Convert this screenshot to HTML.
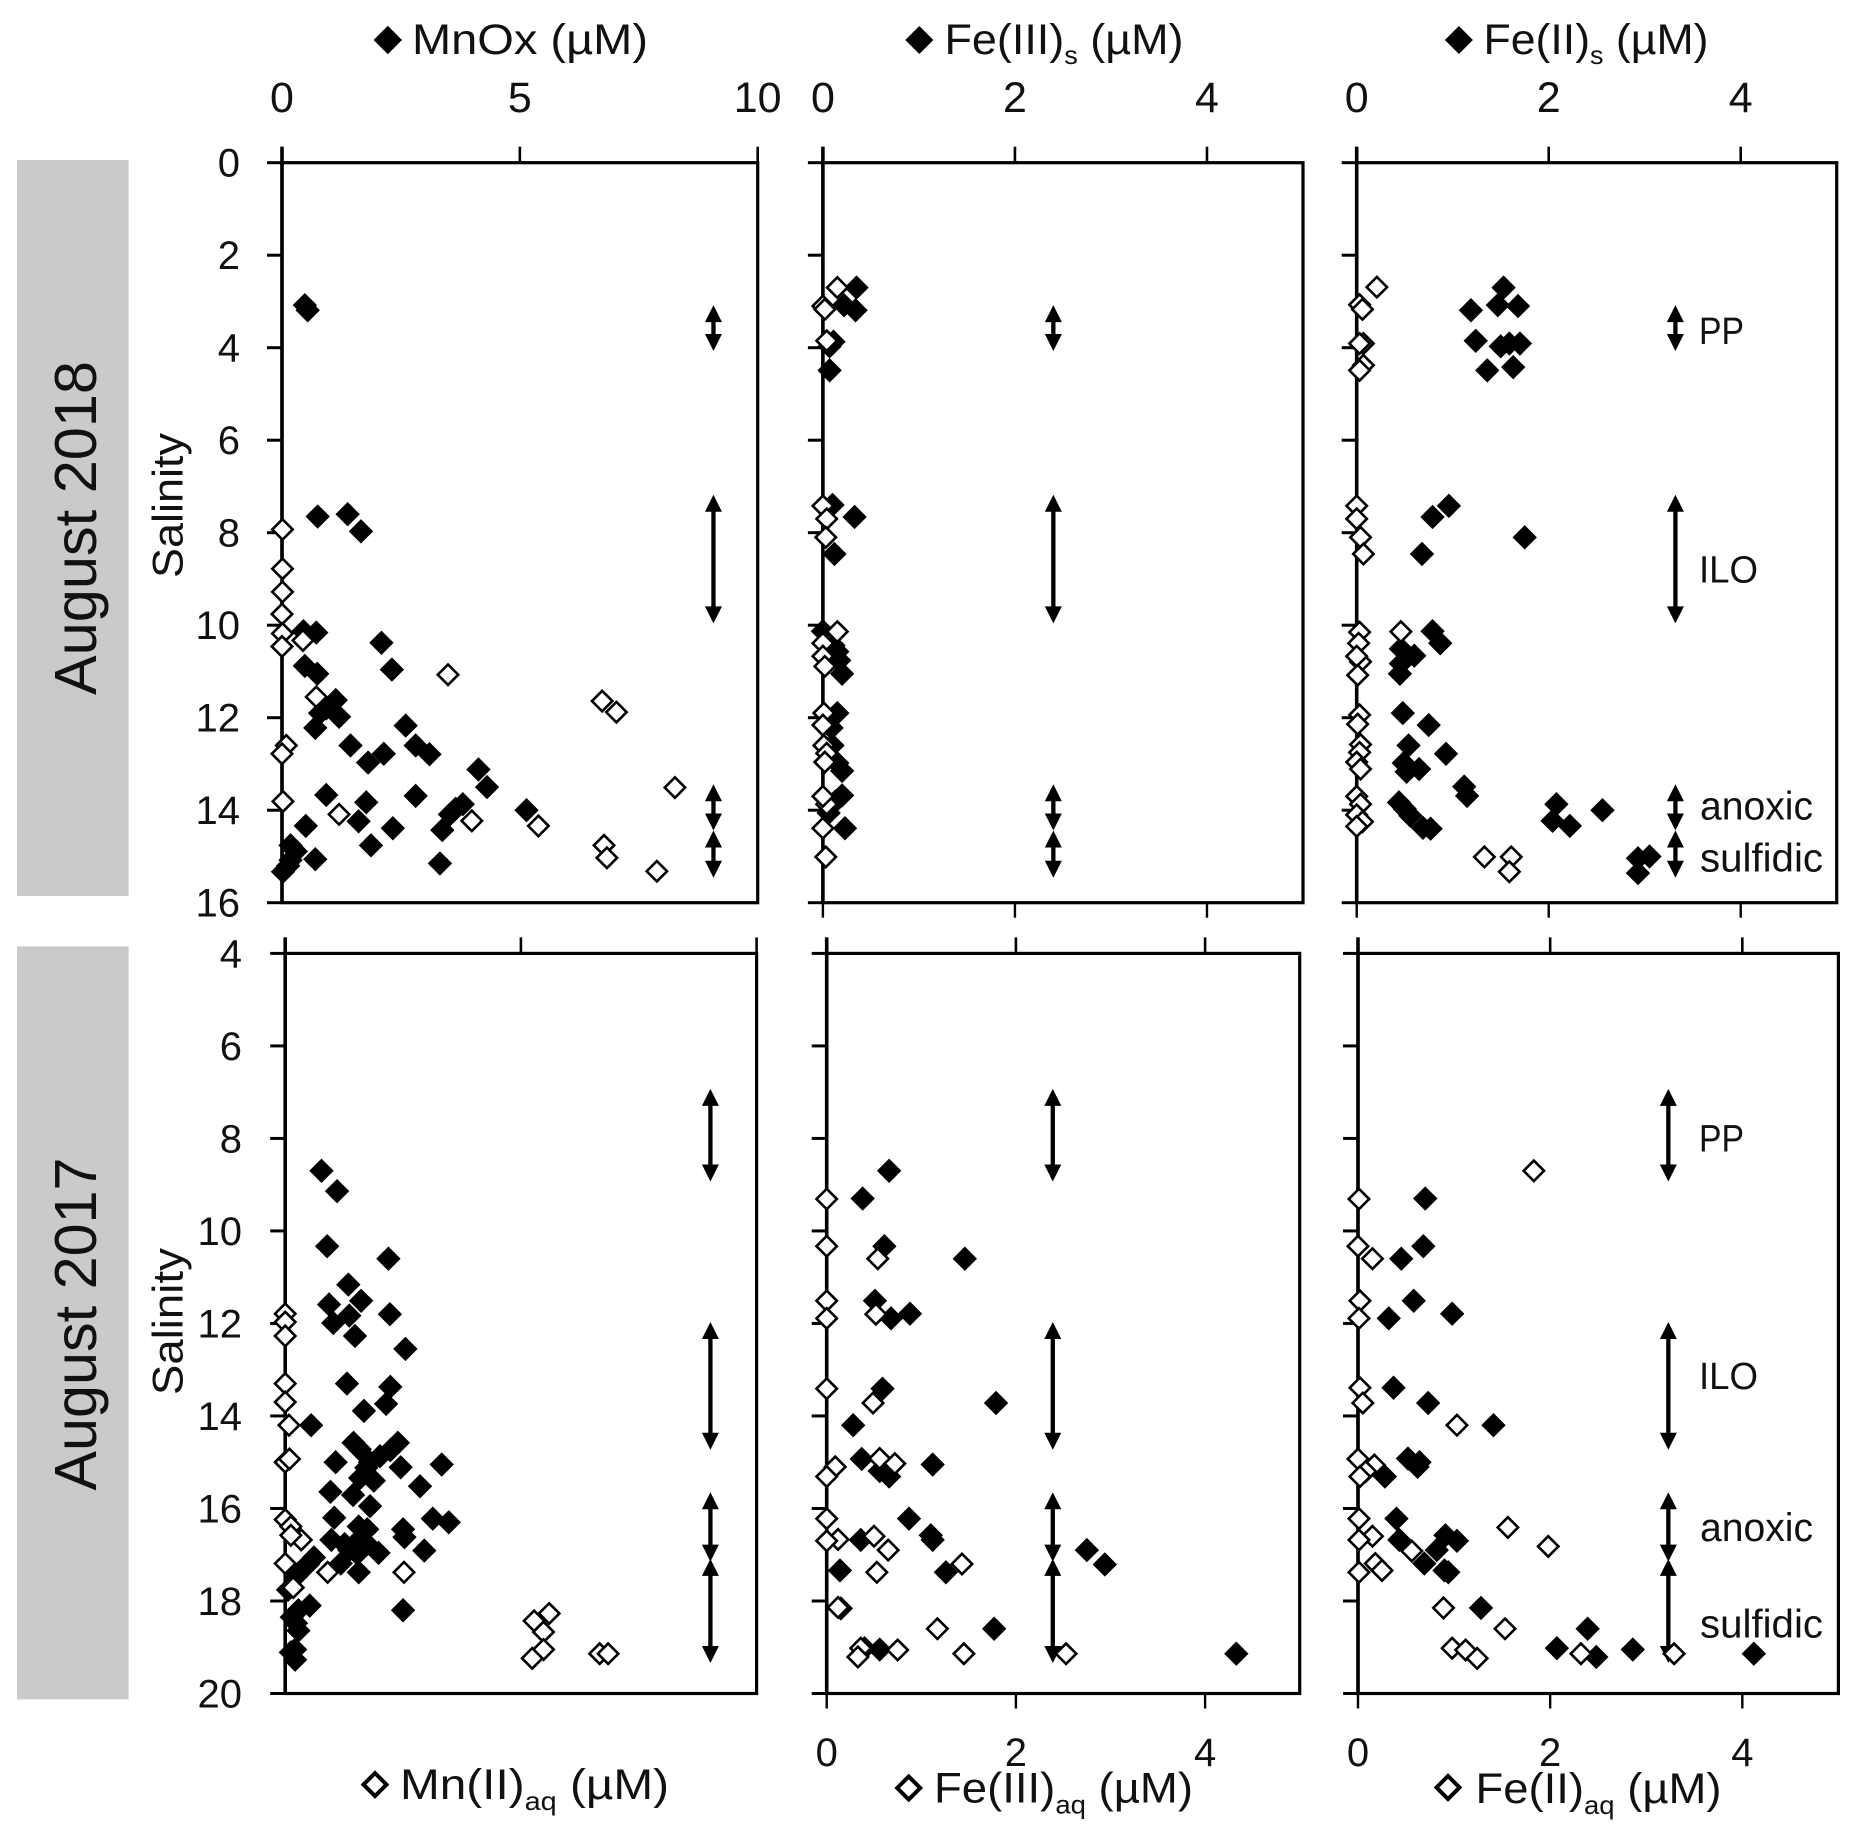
<!DOCTYPE html>
<html lang="en">
<head>
<meta charset="utf-8">
<title>Mn and Fe species versus salinity, August 2018 and August 2017</title>
<style>
html,body{margin:0;padding:0;background:#fff}
svg{display:block}
text{font-family:"Liberation Sans",sans-serif;fill:#111}
</style>
</head>
<body>
<svg id="chart" xmlns="http://www.w3.org/2000/svg" width="1859" height="1839" viewBox="0 0 1859 1839">
  <rect x="17" y="160" width="111.6" height="736" fill="#cacaca"/>
  <rect x="17" y="946.4" width="111.6" height="753" fill="#cacaca"/>
  <text transform="translate(96 528) rotate(-90)" text-anchor="middle" font-size="59" textLength="334" lengthAdjust="spacingAndGlyphs">August 2018</text>
  <text transform="translate(96 1324) rotate(-90)" text-anchor="middle" font-size="59" textLength="333" lengthAdjust="spacingAndGlyphs">August 2017</text>
  <text transform="translate(182.6 505.5) rotate(-90)" text-anchor="middle" font-size="43" textLength="145" lengthAdjust="spacingAndGlyphs">Salinity</text>
  <text transform="translate(182.6 1321.6) rotate(-90)" text-anchor="middle" font-size="43" textLength="147" lengthAdjust="spacingAndGlyphs">Salinity</text>

  <polygon points="373.6,40 387.8,25.8 402,40 387.8,54.2" fill="#000"/>
  <text x="412" y="54" font-size="43" textLength="236" lengthAdjust="spacingAndGlyphs">MnOx (µM)</text>
  <polygon points="905.3,40 919.3,26 933.3,40 919.3,54" fill="#000"/>
  <text x="944.5" y="54" font-size="43" textLength="239" lengthAdjust="spacingAndGlyphs">Fe(III)<tspan font-size="26" dy="10">s</tspan><tspan dy="-10"> (µM)</tspan></text>
  <polygon points="1444.9,40 1458.9,26 1472.9,40 1458.9,54" fill="#000"/>
  <text x="1483.5" y="54" font-size="43" textLength="225" lengthAdjust="spacingAndGlyphs">Fe(II)<tspan font-size="26" dy="10">s</tspan><tspan dy="-10"> (µM)</tspan></text>

  <polygon points="363.5,1784.6 375,1773.1 386.5,1784.6 375,1796.1" fill="#fff" stroke="#000" stroke-width="4"/>
  <text x="400" y="1799" font-size="43" textLength="269" lengthAdjust="spacingAndGlyphs">Mn(II)<tspan font-size="26" dy="11">aq</tspan><tspan dy="-11"> (µM)</tspan></text>
  <polygon points="897.2,1788 908.7,1776.5 920.2,1788 908.7,1799.5" fill="#fff" stroke="#000" stroke-width="4"/>
  <text x="934" y="1802.7" font-size="43" textLength="259" lengthAdjust="spacingAndGlyphs">Fe(III)<tspan font-size="26" dy="11">aq</tspan><tspan dy="-11"> (µM)</tspan></text>
  <polygon points="1436.5,1787.5 1448,1776 1459.5,1787.5 1448,1799" fill="#fff" stroke="#000" stroke-width="4"/>
  <text x="1475.5" y="1803" font-size="43" textLength="246" lengthAdjust="spacingAndGlyphs">Fe(II)<tspan font-size="26" dy="11">aq</tspan><tspan dy="-11"> (µM)</tspan></text>

  <g id="plots"></g>

  <text x="1699" y="344" font-size="38" textLength="45" lengthAdjust="spacingAndGlyphs">PP</text>
  <text x="1699" y="582.7" font-size="38" textLength="59" lengthAdjust="spacingAndGlyphs">ILO</text>
  <text x="1700" y="819.3" font-size="40" textLength="113" lengthAdjust="spacingAndGlyphs">anoxic</text>
  <text x="1700" y="871.7" font-size="40" textLength="123" lengthAdjust="spacingAndGlyphs">sulfidic</text>
  <text x="1699" y="1151.5" font-size="38" textLength="45" lengthAdjust="spacingAndGlyphs">PP</text>
  <text x="1699" y="1389" font-size="38" textLength="59" lengthAdjust="spacingAndGlyphs">ILO</text>
  <text x="1700" y="1541" font-size="40" textLength="113" lengthAdjust="spacingAndGlyphs">anoxic</text>
  <text x="1700" y="1637.5" font-size="40" textLength="123" lengthAdjust="spacingAndGlyphs">sulfidic</text>
</svg>
<script>
// Each point is [concentration in µM, salinity].
const mnox2018 = [[.48,3.08],[.54,3.19],[.75,7.65],[1.38,7.6],[1.66,7.97],[.45,10.13],[.72,10.16],[2.09,10.38],[2.31,10.96],[.48,10.88],[.74,11.05],[1.13,11.62],[.93,11.8],[.8,11.9],[1.2,11.98],[.7,12.22],[2.6,12.17],[2.81,12.6],[1.44,12.6],[2.14,12.78],[3.1,12.79],[1.81,12.97],[4.13,13.12],[4.31,13.5],[.93,13.67],[1.77,13.83],[2.81,13.69],[3.8,13.87],[3.65,13.97],[3.53,14.09],[5.14,14],[1.61,14.24],[.5,14.34],[3.37,14.43],[2.33,14.39],[1.87,14.76],[.18,14.76],[.29,14.89],[.7,15.06],[.18,15.08],[.02,15.33],[.13,15.2],[3.32,15.15]];
const mn2aq2018 = [[.01,7.93],[.01,8.78],[.01,9.28],[0,9.76],[.01,10.18],[0,10.46],[.44,10.33],[3.49,11.07],[.72,11.55],[6.73,11.64],[7.03,11.88],[.09,12.6],[0,12.78],[.02,13.81],[8.26,13.51],[1.2,14.09],[3.99,14.23],[5.39,14.34],[6.77,14.76],[6.83,15.03],[7.88,15.32]];
const fe3s2018 = [[.35,2.7],[.34,3.19],[.22,3.08],[.11,3.87],[.07,3.97],[.07,4.49],[.1,7.4],[.33,7.66],[.12,8.46],[0,10.13],[.11,10.44],[.15,10.57],[.17,10.76],[.2,11.05],[.15,11.9],[.09,12.22],[.1,12.6],[.15,12.98],[.2,13.15],[.2,13.68],[.13,13.81],[.06,14.06],[.23,14.39]];
const fe3aq2018 = [[.15,2.7],[0,3.1],[.02,3.17],[.04,3.85],[0,7.42],[.04,7.7],[.03,8.1],[.15,10.14],[0,10.39],[0,10.67],[.02,10.89],[.01,11.9],[0,12.16],[.01,12.6],[.04,12.77],[.02,12.96],[.04,13.87],[0,13.7],[0,14.39],[.03,15.01]];
const fe2s2018 = [[1.53,2.7],[1.19,3.19],[1.47,3.08],[1.68,3.1],[1.24,3.85],[1.5,3.97],[1.59,3.91],[1.7,3.91],[1.36,4.49],[1.63,4.42],[.96,7.42],[.79,7.66],[1.75,8.1],[.68,8.46],[.79,10.13],[.87,10.39],[.46,10.51],[.6,10.66],[.46,10.83],[.45,11.05],[.48,11.9],[.75,12.16],[.54,12.6],[.93,12.78],[.49,12.98],[.65,13.11],[.52,13.17],[1.12,13.49],[1.15,13.69],[.44,13.83],[.5,13.97],[.56,14.12],[.69,14.38],[.77,14.4],[2.08,13.87],[2.56,14],[2.04,14.23],[2.22,14.34],[3.05,15],[2.93,15.04],[2.93,15.36]];
const fe2aq2018 = [[.21,2.69],[.03,3.07],[.06,3.17],[.07,3.91],[.03,3.91],[.07,4.38],[.03,4.49],[0,7.42],[0,7.7],[.04,8.1],[.07,8.46],[.03,10.15],[.46,10.14],[.02,10.39],[.04,10.79],[0,10.67],[.01,11.08],[.03,11.94],[.01,12.14],[.04,12.58],[.03,12.75],[0,12.96],[.04,13.11],[0,13.7],[.04,13.87],[0,14.1],[.06,14.25],[0,14.35],[1.33,15.01],[1.61,15.01],[1.59,15.33]];
const mnox2017 = [[.77,8.7],[1.1,9.14],[.89,10.33],[2.19,10.6],[1.34,11.16],[1.61,11.51],[.93,11.59],[1.02,11.99],[1.36,11.83],[2.22,11.8],[1.48,12.27],[2.55,12.55],[1.31,13.3],[2.23,13.37],[2.14,13.74],[1.67,13.89],[.55,14.2],[1.45,14.58],[1.58,14.72],[2.39,14.58],[2.23,14.74],[2.01,14.87],[1.07,15],[1.8,15],[3.32,15.05],[2.45,15.11],[1.72,15.12],[1.59,15.34],[1.88,15.4],[2.86,15.52],[.96,15.64],[1.44,15.71],[1.8,15.95],[1.04,16.2],[3.13,16.22],[3.47,16.3],[2.5,16.45],[2.53,16.62],[1.56,16.39],[1.74,16.45],[.98,16.68],[1.26,16.77],[1.53,16.71],[1.74,16.77],[1.36,16.9],[1.53,16.98],[1.98,16.96],[2.95,16.91],[1.18,17.19],[1.56,17.38],[.61,17.06],[.48,17.21],[.34,17.34],[.23,17.47],[.06,17.76],[.52,18.1],[2.5,18.2],[.28,18.2],[.14,18.35],[.23,18.48],[.28,18.64],[.21,19.05],[.12,19.11],[.21,19.27]];
const mn2aq2017 = [[0,11.79],[0,11.97],[0,12.27],[0,13.3],[0,13.7],[.08,14.2],[0,15],[.09,14.93],[0,16.24],[.12,16.39],[.34,16.68],[.12,16.58],[0,17.19],[.9,17.38],[2.52,17.38],[.17,17.71],[5.6,18.27],[5.28,18.43],[5.48,18.67],[5.48,19.05],[5.24,19.24],[6.67,19.14],[6.85,19.14]];
const fe3s2017 = [[.66,8.7],[.38,9.3],[.61,10.33],[1.46,10.6],[.51,11.51],[.68,11.89],[.88,11.79],[.59,13.41],[1.79,13.72],[.28,14.2],[.37,14.93],[1.12,15.05],[.56,15.19],[.66,15.31],[.87,16.22],[1.1,16.58],[1.12,16.68],[.36,16.68],[2.75,16.9],[2.94,17.21],[.14,17.34],[1.26,17.38],[.15,18.16],[1.77,18.6],[.4,19.02],[.56,19.05],[4.33,19.14]];
const fe3aq2017 = [[0,9.31],[0,10.33],[.54,10.6],[0,11.51],[.52,11.8],[0,11.89],[0,13.41],[.49,13.72],[.09,15.1],[.56,14.92],[.72,15.03],[0,15.31],[0,16.22],[.12,16.67],[0,16.7],[.5,16.6],[.65,16.9],[1.43,17.2],[.53,17.38],[.12,18.14],[1.17,18.6],[.36,19.02],[.33,19.21],[.75,19.06],[1.45,19.14],[2.53,19.14]];
const fe2s2017 = [[.7,9.3],[.68,10.33],[.45,10.6],[.58,11.51],[.32,11.89],[.98,11.79],[.37,13.39],[.73,13.72],[1.41,14.2],[.52,14.92],[.64,15],[.62,15.1],[.28,15.31],[.4,16.22],[.43,16.68],[.91,16.58],[1.03,16.7],[.82,16.9],[.69,17.19],[.9,17.34],[.94,17.38],[1.28,18.15],[2.39,18.6],[2.07,19.02],[2.48,19.21],[2.86,19.05],[4.12,19.14]];
const fe2aq2017 = [[1.83,8.7],[.01,9.31],[0,10.33],[.15,10.6],[.02,11.51],[.01,11.89],[.02,13.39],[.05,13.72],[1.03,14.2],[0,14.93],[.17,15.06],[.08,15.2],[.02,15.31],[.01,16.22],[.15,16.6],[.01,16.68],[1.56,16.41],[1.98,16.82],[.56,16.92],[.18,17.19],[.25,17.34],[.01,17.38],[.89,18.15],[1.53,18.6],[.98,19.02],[1.12,19.06],[1.24,19.24],[2.32,19.14],[3.29,19.14]];

// Redox-zone salinity ranges drawn as double-headed arrows.
const zones2018 = [[3.08,4.07],[7.18,9.96],[13.44,14.44],[14.44,15.46]];
const zones2017 = [[6.93,8.93],[11.97,14.73],[15.65,17.15],[17.09,19.34]];

// Tick labels.
const salinityTicks2018 = [0,2,4,6,8,10,12,14,16];
const salinityTicks2017 = [4,6,8,10,12,14,16,18,20];
const concTicksMn = [0,5,10];
const concTicksFe = [0,2,4];

const NS = 'http://www.w3.org/2000/svg';
const root = document.getElementById('plots');

function mk(tag, attrs, parent) {
  const e = document.createElementNS(NS, tag);
  for (const k in attrs) e.setAttribute(k, attrs[k]);
  (parent || root).appendChild(e);
  return e;
}

const panels = [
  {id:'mn-2018', left:282, right:757.7, top:162.7, bottom:902.7, xMax:10, sal:[0,16], sTicks:salinityTicks2018, cTicks:concTicksMn, filled:mnox2018, empty:mn2aq2018, zones:zones2018, zoneConc:9.07, yLabelX:240, topLabels:true, bottomTicks:false, bottomLabels:false},
  {id:'fe3-2018', left:822.9, right:1303, top:162.7, bottom:902.7, xMax:5, sal:[0,16], sTicks:salinityTicks2018, cTicks:concTicksFe, filled:fe3s2018, empty:fe3aq2018, zones:zones2018, zoneConc:2.40, yLabelX:0, topLabels:true, bottomTicks:true, bottomLabels:false},
  {id:'fe2-2018', left:1356.7, right:1836.7, top:162.7, bottom:902.7, xMax:5, sal:[0,16], sTicks:salinityTicks2018, cTicks:concTicksFe, filled:fe2s2018, empty:fe2aq2018, zones:zones2018, zoneConc:3.32, yLabelX:0, topLabels:true, bottomTicks:true, bottomLabels:false},
  {id:'mn-2017', left:285.2, right:756.6, top:953.4, bottom:1693.5, xMax:10, sal:[4,20], sTicks:salinityTicks2017, cTicks:concTicksMn, filled:mnox2017, empty:mn2aq2017, zones:zones2017, zoneConc:9.02, yLabelX:242, topLabels:false, bottomTicks:false, bottomLabels:false},
  {id:'fe3-2017', left:826.7, right:1299.7, top:953.4, bottom:1693.5, xMax:5, sal:[4,20], sTicks:salinityTicks2017, cTicks:concTicksFe, filled:fe3s2017, empty:fe3aq2017, zones:zones2017, zoneConc:2.39, yLabelX:0, topLabels:false, bottomTicks:true, bottomLabels:true},
  {id:'fe2-2017', left:1358, right:1838.4, top:953.4, bottom:1693.5, xMax:5, sal:[4,20], sTicks:salinityTicks2017, cTicks:concTicksFe, filled:fe2s2017, empty:fe2aq2017, zones:zones2017, zoneConc:3.23, yLabelX:0, topLabels:false, bottomTicks:true, bottomLabels:true}
];

function diamond(cx, cy, r) {
  return (cx-r)+','+cy+' '+cx+','+(cy-r)+' '+(cx+r)+','+cy+' '+cx+','+(cy+r);
}

panels.forEach(function (p) {
  const xScale = function (v) { return p.left + v / p.xMax * (p.right - p.left); };
  const yScale = function (s) { return p.top + (s - p.sal[0]) / (p.sal[1] - p.sal[0]) * (p.bottom - p.top); };

  const g = mk('g', {});
  
  

  const frame = mk('rect', {x:p.left, y:p.top, width:p.right-p.left, height:p.bottom-p.top, fill:'#fff', stroke:'#000', 'stroke-width':3.2}, g);
  
  

  const axis = mk('line', {x1:p.left, x2:p.left, y1:p.top-16, y2:p.bottom, stroke:'#000', 'stroke-width':3.6}, g);
  
  

  p.sTicks.forEach(function (s) {
    const t = mk('line', {x1:p.left-15, x2:p.left, y1:yScale(s), y2:yScale(s), stroke:'#000', 'stroke-width':3}, g);
    
    
    if (p.yLabelX) {
      const l = mk('text', {x:p.yLabelX, y:yScale(s)+14, 'text-anchor':'end', 'font-size':40}, g);
      l.textContent = String(s);
      
      
    }
  });

  p.cTicks.forEach(function (c) {
    const t = mk('line', {x1:xScale(c), x2:xScale(c), y1:p.top-16, y2:p.top, stroke:'#000', 'stroke-width':2.6}, g);
    
    
    if (p.bottomTicks) {
      const b = mk('line', {x1:xScale(c), x2:xScale(c), y1:p.bottom, y2:p.bottom+15, stroke:'#000', 'stroke-width':2.4}, g);
      
      
    }
    if (p.topLabels) {
      const l = mk('text', {x:xScale(c), y:112, 'text-anchor':'middle', 'font-size':43}, g);
      l.textContent = String(c);
      
      
    }
    if (p.bottomLabels) {
      const l2 = mk('text', {x:xScale(c), y:1766, 'text-anchor':'middle', 'font-size':40}, g);
      l2.textContent = String(c);
      
      
    }
  });

  p.zones.forEach(function (z) {
    const ax = xScale(p.zoneConc);
    const y1 = yScale(z[0]);
    const y2 = yScale(z[1]);
    const shaft = mk('line', {x1:ax, x2:ax, y1:y1+8, y2:y2-8, stroke:'#000', 'stroke-width':4.3}, g);
    
    
    const up = mk('polygon', {points:(ax-8.5)+','+(y1+17)+' '+ax+','+y1+' '+(ax+8.5)+','+(y1+17), fill:'#000'}, g);
    
    
    const down = mk('polygon', {points:(ax-8.5)+','+(y2-17)+' '+ax+','+y2+' '+(ax+8.5)+','+(y2-17), fill:'#000'}, g);
    
    
  });

  p.filled.forEach(function (d) {
    const m = mk('polygon', {points:diamond(xScale(d[0]), yScale(d[1]), 12.2), fill:'#000'}, g);
    
    
  });

  p.empty.forEach(function (d) {
    const m = mk('polygon', {points:diamond(xScale(d[0]), yScale(d[1]), 10.2), fill:'#fff', stroke:'#000', 'stroke-width':2.6}, g);
    
    
  });
});
</script>
</body>
</html>
